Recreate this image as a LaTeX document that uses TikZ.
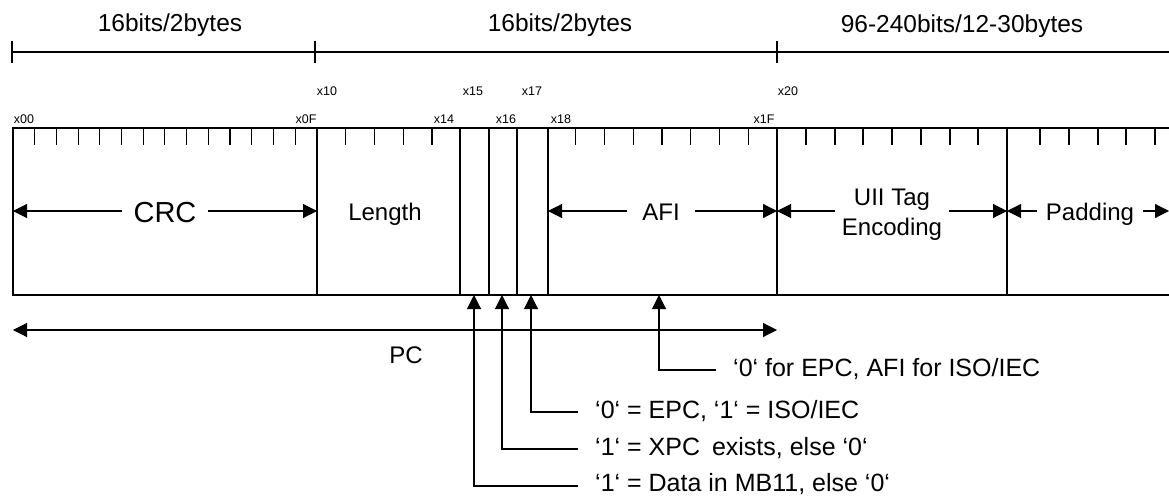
\documentclass[tikz,border=0pt]{standalone}
\usepackage{fontspec}
\setmainfont{Liberation Sans}
\usetikzlibrary{arrows.meta}
\begin{document}
\begin{tikzpicture}[x=1pt,y=-1pt,
  ln/.style={line width=1.1pt, black},
  thick line/.style={line width=2.6pt, black},
  arr/.style={line width=1.1pt, -{Triangle[length=14pt,width=14pt]}},
  darr/.style={line width=1.1pt, {Triangle[length=14pt,width=14pt]}-{Triangle[length=14pt,width=14pt]}},
  head/.style={font=\fontsize{24.5}{28}\selectfont, inner sep=0pt, anchor=base},
  field/.style={font=\fontsize{24}{30}\selectfont, inner ysep=0pt, anchor=base},
  small/.style={font=\fontsize{12.5}{14}\selectfont, inner sep=0pt, anchor=base},
  note/.style={font=\fontsize{25}{28}\selectfont, inner sep=0pt, anchor=base west}]
\useasboundingbox (0,0) rectangle (1169,495);

% header brackets
\coordinate (h0) at (12,52);
\coordinate (h1) at (315,52);
\coordinate (h2) at (777,52);
\coordinate (h3) at (1169,52);
\draw[ln] (h0) -- (h3);
\foreach \h in {h0,h1,h2} \draw[ln] ([yshift=11pt]\h) -- ([yshift=-11pt]\h);
\node[head] (hd1) at (170,32) {16bits/2bytes};
\node[head] (hd2) at (560,32) {16bits/2bytes};
\node[head] (hd3) at (962,33) {96-240bits/12-30bytes};

% address labels
\node[small] (a00) at (24,123) {x00};
\node[small] (a0F) at (306,123) {x0F};
\node[small] (a10) at (327,95) {x10};
\node[small] (a14) at (444,123) {x14};
\node[small] (a15) at (473,95) {x15};
\node[small] (a16) at (506,123) {x16};
\node[small] (a17) at (532,95) {x17};
\node[small] (a18) at (561,123) {x18};
\node[small] (a1F) at (764,123) {x1F};
\node[small] (a20) at (788,95) {x20};

% frame
\coordinate (tl) at (13,128);
\coordinate (tr) at (1169,128);
\coordinate (bl) at (13,295);
\coordinate (br) at (1169,295);
\draw[ln] (tr) -- (tl) -- (bl) -- (br);

% minor ticks
\foreach \k in {1,...,13} \draw[ln] (13+21.7*\k,128) -- (13+21.7*\k,145);
\foreach \k in {1,2,3,4,9,10,11,12,13,14,15} \draw[ln] (317+28.75*\k,128) -- (317+28.75*\k,145);
\foreach \x in {806,835,863,892,921,950,978,1040,1069,1098,1126,1155} \draw[ln] (\x,128) -- (\x,145);

% dividers
\foreach \x/\n in {317/d0F,460/d14,489/d15,517/d16,548/d17,1007/dP} {
  \coordinate (\n t) at (\x,128);
  \coordinate (\n b) at (\x,295);
  \draw[ln] (\n t) -- (\n b);
}
\coordinate (d1Ft) at (777,128);
\coordinate (d1Fb) at (777,295);
\draw[thick line] (d1Ft) -- (d1Fb);

% field labels with arrows
\node[font=\fontsize{29}{32}\selectfont, inner xsep=11pt, inner ysep=0pt] (crc) at (165,213) {CRC};
\coordinate (crcL) at (13,211);
\coordinate (crcR) at (317,211);
\draw[arr] (crc.west |- crcL) -- (crcL);
\draw[arr] (crc.east |- crcR) -- (crcR);

\node[field] (len) at (385,220) {Length};

\node[field, inner xsep=15pt] (afi) at (661,220) {AFI};
\coordinate (afiL) at (548,211);
\coordinate (afiR) at (777,211);
\draw[arr] (afi.west |- afiL) -- (afiL);
\draw[arr] (afi.east |- afiR) -- (afiR);

\node[font=\fontsize{24}{30}\selectfont, align=center, inner xsep=7pt, inner ysep=0pt, anchor=base] (uii) at (892,235) {UII Tag\\Encoding};
\coordinate (uiiL) at (777,211);
\coordinate (uiiR) at (1007,211);
\draw[arr] (uii.west |- uiiL) -- (uiiL);
\draw[arr] (uii.east |- uiiR) -- (uiiR);

\node[field, inner xsep=9pt] (pad) at (1090,220) {Padding};
\coordinate (padL) at (1007,211);
\coordinate (padR) at (1169,211);
\draw[arr] (pad.west |- padL) -- (padL);
\draw[arr] (pad.east |- padR) -- (padR);

% PC
\coordinate (pcL) at (13,330);
\coordinate (pcR) at (777,330);
\draw[darr] (pcL) -- (pcR);
\node[font=\fontsize{24}{28}\selectfont, inner sep=0pt] (pc) at (406,355) {PC};

% bit pointers
\coordinate (b15) at (474,295);
\coordinate (b16) at (502,295);
\coordinate (b17) at (531,295);
\coordinate (bafi) at (659,295);
\node[note] (n1) at (733,376) {‘0‘ for EPC, AFI for ISO/IEC};
\node[note] (n2) at (595,418) {‘0‘ = EPC, ‘1‘ = ISO/IEC};
\node[note] (n3) at (595,455) {‘1‘ = XPC\hspace{5pt} exists, else ‘0‘};
\node[note] (n4) at (595,491) {‘1‘ = Data in MB11, else ‘0‘};
\draw[arr] ([shift={(-17pt,6pt)}]n1.base west) -| (bafi);
\draw[arr] ([shift={(-17pt,6pt)}]n2.base west) -| (b17);
\draw[arr] ([shift={(-17pt,6pt)}]n3.base west) -| (b16);
\draw[arr] ([shift={(-17pt,5pt)}]n4.base west) -| (b15);
\end{tikzpicture}
\end{document}
